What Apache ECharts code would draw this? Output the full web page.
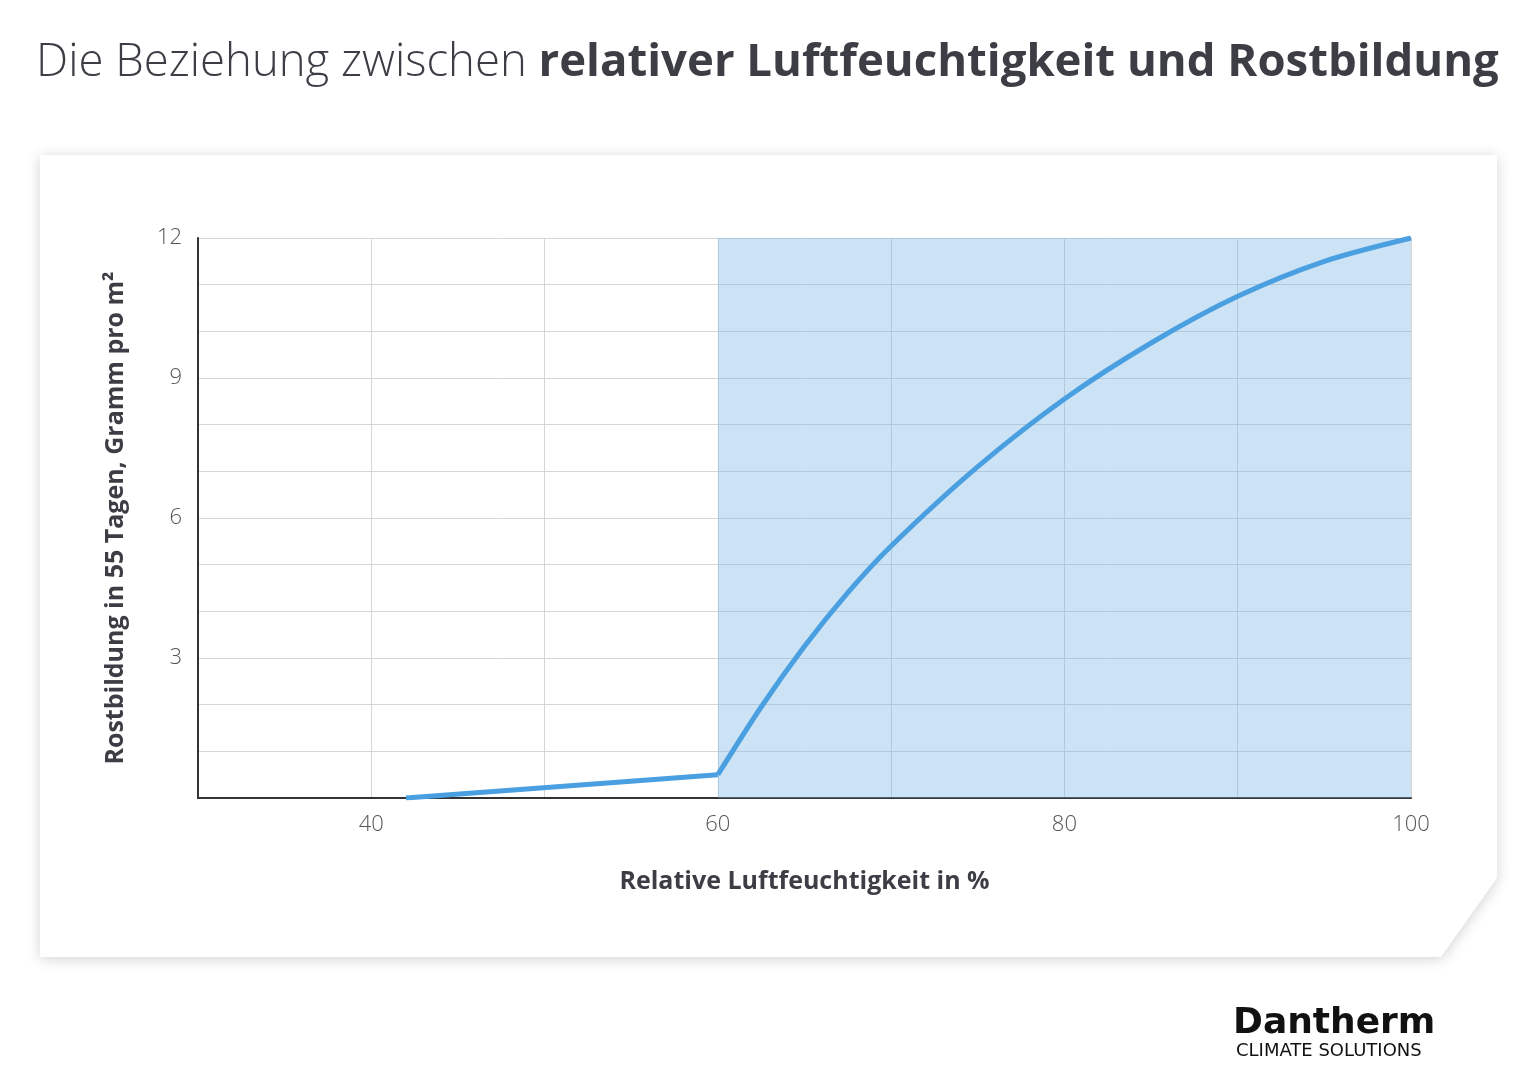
<!DOCTYPE html>
<html><head><meta charset="utf-8">
<script src="https://cdn.jsdelivr.net/npm/echarts@6/dist/echarts.min.js"></script>
<style>html,body{margin:0;background:#fff}#c{width:1537px;height:1089px}</style>
</head><body><div id="c"></div>
<script>
const lowPart = [[42,0],[60,0.5]];
const highPart = [[60,0.5],[62.5,1.95],[65,3.25],[67.5,4.4],[70,5.4],[75,7.1],[80,8.55],[85,9.75],[90,10.75],[95,11.5],[100,12]];
const shadeRange = [60,100];
const xTicksShown = [40,60,80,100];
const yTicksShown = [3,6,9,12];
const chart = echarts.init(document.getElementById('c'));
const lineStyle = {color:'#4a9fe0',width:5};
chart.setOption({
  animation:false,
  graphic:[
    {type:'polygon',z:-10,shape:{points:[[40,155],[1497,155],[1497,878],[1441,957],[40,957]]},
     style:{fill:'#fff',shadowBlur:14,shadowColor:'rgba(0,0,0,0.18)',shadowOffsetY:2}},
    {type:'text',left:36,top:40,style:{text:'{l|Die Beziehung zwischen }{b|relativer Luftfeuchtigkeit und Rostbildung}',
      rich:{l:{fontFamily:'Open Sans',fontWeight:300,fontSize:45.5,fill:'#3d3d45'},b:{fontFamily:'Open Sans',fontWeight:'bold',fontSize:45.5,fill:'#3d3d45'}}}},
    {type:'text',left:1233,top:1006,style:{text:'Dantherm',fontFamily:'DejaVu Sans',fontWeight:'bold',fontSize:36,fill:'#111'}},
    {type:'text',left:1236,top:1042,style:{text:'CLIMATE SOLUTIONS',fontFamily:'DejaVu Sans',fontSize:18,fill:'#111'}}
  ],
  grid:{left:198,right:126,top:238,bottom:291},
  xAxis:{type:'value',min:30,max:100,interval:10,
    name:'Relative Luftfeuchtigkeit in %',nameLocation:'middle',nameGap:71,
    nameTextStyle:{fontFamily:'Open Sans',fontWeight:'bold',fontSize:25,color:'#3d3d45'},
    axisLine:{lineStyle:{color:'#333',width:2}},axisTick:{show:false},
    axisLabel:{margin:16,fontFamily:'Open Sans',fontWeight:300,fontSize:22,color:'#555',
      formatter:v=>xTicksShown.includes(v)?String(v):''},
    splitLine:{lineStyle:{color:'#d6d6d6',width:1}}},
  yAxis:{type:'value',min:0,max:12,interval:1,
    name:'Rostbildung in 55 Tagen, Gramm pro m²',nameLocation:'middle',nameGap:70,
    nameTextStyle:{fontFamily:'Open Sans',fontWeight:'bold',fontSize:25,color:'#3d3d45'},
    axisLine:{show:true,lineStyle:{color:'#333',width:2}},axisTick:{show:false},
    axisLabel:{margin:16,fontFamily:'Open Sans',fontWeight:300,fontSize:22,color:'#555',
      formatter:v=>yTicksShown.includes(v)?String(v):''},
    splitLine:{lineStyle:{color:'#d6d6d6',width:1}}},
  series:[
    {type:'line',data:lowPart,symbol:'none',lineStyle,
     markArea:{silent:true,itemStyle:{color:'rgba(120,180,228,0.38)'},data:[[{xAxis:shadeRange[0]},{xAxis:shadeRange[1]}]]}},
    {type:'line',data:highPart,symbol:'none',smooth:0.3,lineStyle}
  ]
});
</script></body></html>
